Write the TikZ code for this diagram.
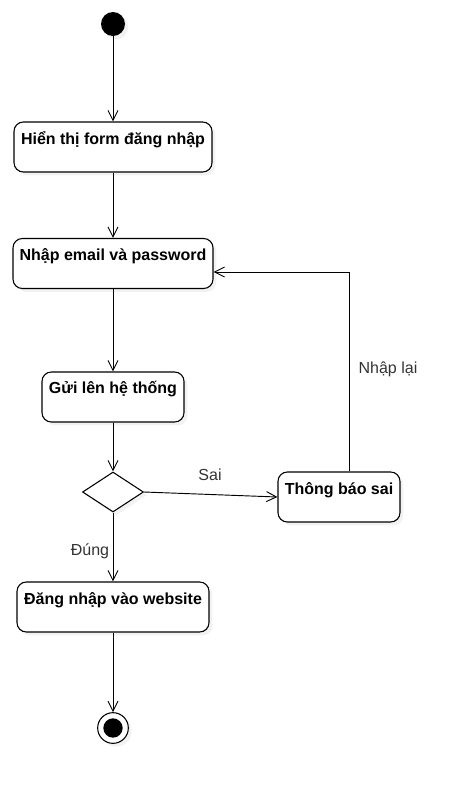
\documentclass[tikz,border=0pt]{standalone}
\usepackage{fontspec}
\setmainfont{Liberation Sans}
\usetikzlibrary{arrows.meta,shapes.geometric,shadows}
\begin{document}
\begin{tikzpicture}[x=0.75pt,y=-0.75pt,
  shd/.style={drop shadow={opacity=0.1,shadow xshift=2.5pt,shadow yshift=-2.5pt}},
  act/.style={draw,rounded corners=7pt,line width=0.8pt,fill=white,shd,inner sep=0pt,minimum height=37.5pt},
  atext/.style={font=\bfseries\fontsize{12}{14}\selectfont,inner sep=0pt,anchor=center},
  lbl/.style={font=\fontsize{12}{14}\selectfont,text=black!80,inner sep=0pt},
  arr/.style={draw,line width=0.7pt,-{Straight Barb[length=7.5pt,width=7.5pt,line width=0.7pt]}}]
\useasboundingbox (0,0) rectangle (466,793);
% start
\node[circle,fill=black,minimum size=18pt,inner sep=0pt,shd] (start) at (113,24) {};
% activities
\node[act,minimum width=148.5pt] (b1) at (113,147) {};
\node[atext] (t1) at (113,140) {Hiển thị form đăng nhập};
\node[act,minimum width=150pt] (b2) at (113,263.5) {};
\node[atext] (t2) at (113,256) {Nhập email và password};
\node[act,minimum width=106.5pt] (b3) at (113,397) {};
\node[atext] (t3) at (113,389) {Gửi lên hệ thống};
\node[draw,diamond,line width=0.8pt,fill=white,shd,inner sep=0pt,minimum width=45.75pt,minimum height=30pt] (d) at (113,492) {};
\node[act,minimum width=91.5pt] (tb) at (339,497) {};
\node[atext] (t4) at (339,490) {Thông báo sai};
\node[act,minimum width=144pt] (b4) at (113,607) {};
\node[atext] (t5) at (113,600) {Đăng nhập vào website};
% end
\node[circle,draw,line width=0.8pt,fill=white,minimum size=23pt,inner sep=0pt,shd] (end) at (113,728) {};
\node[circle,fill=black,minimum size=14.5pt,inner sep=0pt] (endin) at (113,728) {};
% connectors
\draw[arr] (start) -- (b1);
\draw[arr] (b1) -- (b2);
\draw[arr] (b2) -- (b3);
\draw[arr] (b3) -- (d);
\draw[arr] (d.east) -- (tb.west);
\draw[arr] (d.south) -- (b4.north);
\draw[arr] (b4) -- (end);
\coordinate (lp) at (349,272);
\draw[arr] (tb.north -| lp) -- (lp) -- (b2.east |- lp);
% labels
\node[lbl] (lsai) at (210,475) {Sai};
\node[lbl] (llai) at (388,369) {Nhập lại};
\node[lbl] (ldung) at (90,551) {Đúng};
\end{tikzpicture}
\end{document}
